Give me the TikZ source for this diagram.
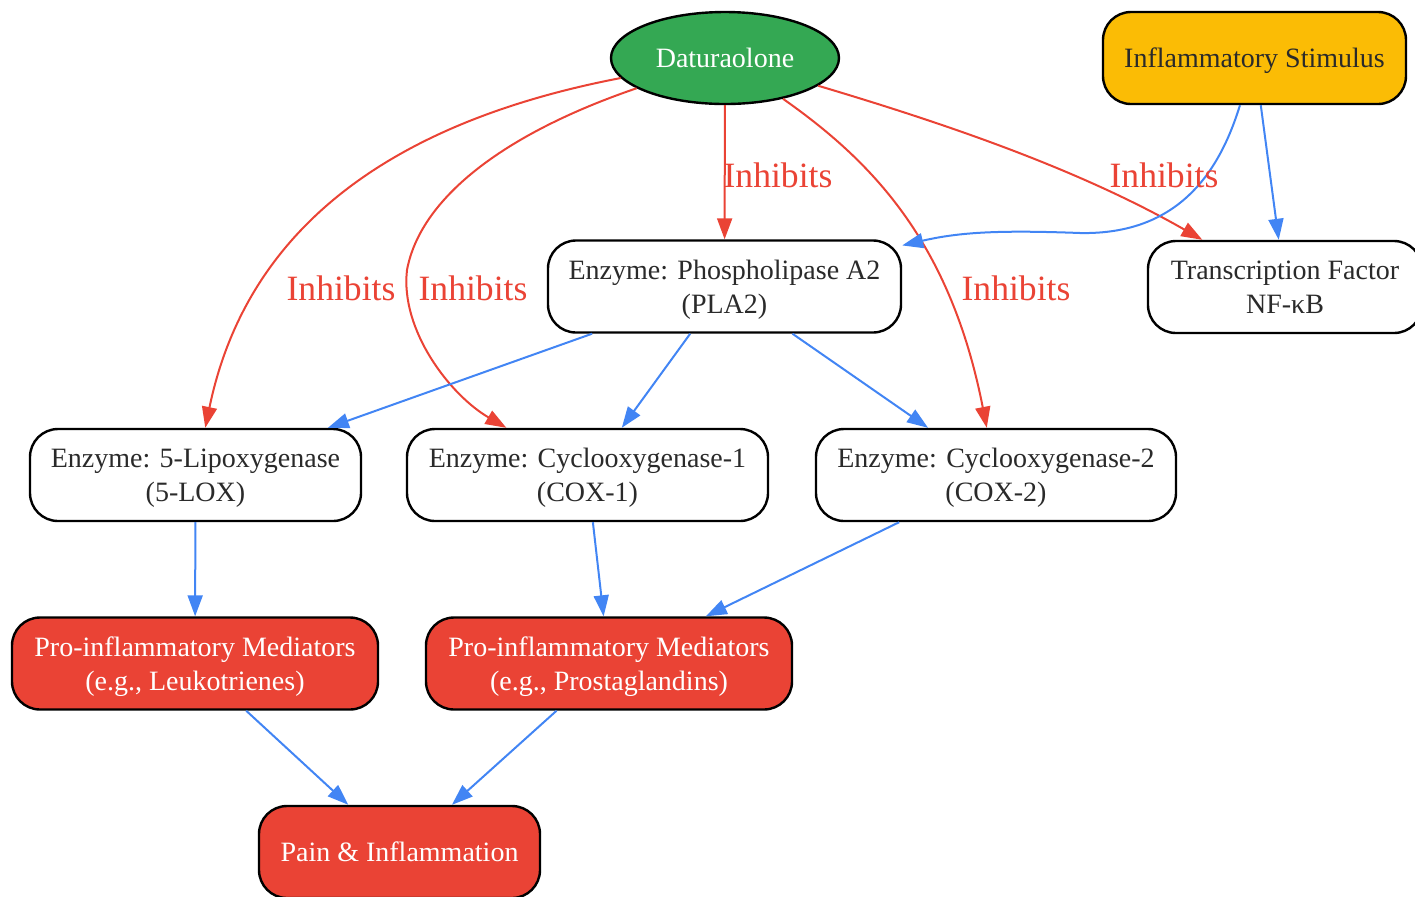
\documentclass[tikz,border=0pt]{standalone}
\usepackage{fontspec}
\setmainfont{Liberation Serif}
\usetikzlibrary{shapes.geometric, arrows.meta}
\usepackage{xcolor}
\definecolor{gred}{HTML}{EA4335}
\definecolor{gblue}{HTML}{4285F4}
\definecolor{ggreen}{HTML}{34A853}
\definecolor{gyellow}{HTML}{FBBC05}
\definecolor{txtgray}{HTML}{2A2A2A}

\begin{document}
\begin{tikzpicture}[
    x=0.5pt, y=-0.5pt,
    box/.style={draw, line width=1.2pt, rounded corners=14pt, minimum height=46pt, inner sep=2pt, text depth=0pt, align=center, text=txtgray, fill=white, font=\fontsize{14pt}{17pt}\selectfont},
    drug/.style={box, ellipse, fill=ggreen, text=white},
    stim/.style={box, fill=gyellow},
    effect/.style={box, fill=gred, text=white},
    inh/.style={-{Triangle[length=10.5pt, width=7.5pt]}, line width=1pt, gred},
    act/.style={-{Triangle[length=10.5pt, width=7.5pt]}, line width=1pt, gblue},
    lbl/.style={text=gred, inner sep=0pt, font=\fontsize{17.8pt}{20pt}\selectfont}
]
\useasboundingbox (0,0) rectangle (1415,896);

% Sources
\node[drug, minimum width=114pt] (datura) at (725,58) {Daturaolone};
\node[stim, minimum width=151.5pt] (stimulus) at (1254.5,58) {Inflammatory Stimulus};

% Targets
\node[box, minimum width=176.5pt] (pla2) at (724.5,286.5) {Enzyme: Phospholipase A2\\(PLA2)};
\node[box, minimum width=137pt] (nfkb) at (1285,287) {Transcription Factor\\NF-κB};
\node[box, minimum width=165.5pt] (lox) at (195.5,475) {Enzyme: 5-Lipoxygenase\\(5-LOX)};
\node[box, minimum width=180.5pt] (cox1) at (587.5,475) {Enzyme: Cyclooxygenase-1\\(COX-1)};
\node[box, minimum width=180pt] (cox2) at (996,475) {Enzyme: Cyclooxygenase-2\\(COX-2)};

% Mediators and outcome
\node[effect, minimum width=183pt] (leuko) at (195,663.5) {Pro-inflammatory Mediators\\(e.g., Leukotrienes)};
\node[effect, minimum width=183pt] (prosta) at (609,663.5) {Pro-inflammatory Mediators\\(e.g., Prostaglandins)};
\node[effect, minimum width=140.5pt] (pain) at (399.5,852) {Pain \& Inflammation};

% Inhibition
\draw[inh] (datura) .. controls (350,130) and (240,260) .. (lox);
\draw[inh] (datura) .. controls (500,135) and (420,200) .. (407,270) .. controls (400,330) and (450,395) .. (cox1);
\draw[inh] (datura) -- (pla2);
\draw[inh] (datura) .. controls (870,160) and (950,240) .. (cox2);
\draw[inh] (datura) .. controls (950,125) and (1080,170) .. (nfkb);

% Activation
\draw[act] (stimulus) .. controls (1220,170) and (1180,235) .. (1080,233) .. controls (1000,230) and (960,232) .. (pla2);
\draw[act] (stimulus) -- (nfkb);
\draw[act] (pla2) -- (lox);
\draw[act] (pla2) -- (cox1);
\draw[act] (pla2) -- (cox2);
\draw[act] (lox) -- (leuko);
\draw[act] (cox1) -- (prosta);
\draw[act] (cox2) -- (prosta);
\draw[act] (leuko) -- (pain);
\draw[act] (prosta) -- (pain);

% Edge labels
\node[lbl] (l_pla2) at (778,175) {Inhibits};
\node[lbl] (l_lox) at (341,288) {Inhibits};
\node[lbl] (l_cox1) at (473,288) {Inhibits};
\node[lbl] (l_cox2) at (1016,288) {Inhibits};
\node[lbl] (l_nfkb) at (1164,175) {Inhibits};

\end{tikzpicture}
\end{document}
